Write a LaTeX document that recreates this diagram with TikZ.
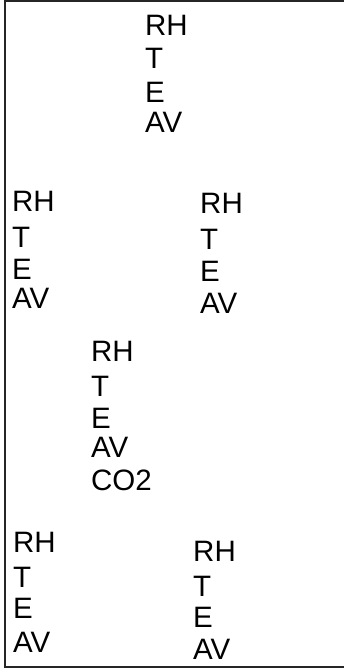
\documentclass[tikz,border=0pt]{standalone}
\usepackage{fontspec}
\setmainfont{Liberation Sans}
\begin{document}
\begin{tikzpicture}[x=1pt,y=-1pt,
  lbl/.style={anchor=base west,inner sep=0pt,font=\fontsize{29.5}{33}\selectfont},
  frame/.style={draw=black!85,line width=1.4pt}]
\useasboundingbox (0,0) rectangle (346,670);
\draw[frame] (344,1) -- (5,1) -- (5,667) -- (344,667);
% top
\foreach \w/\y [count=\i] in {RH/35,T/68,E/102,AV/132}
  \node[lbl] (top\i) at (145,\y) {\w};
% middle left and right
\foreach \w/\y [count=\i] in {RH/211,T/247,E/279,AV/308}
  \node[lbl] (midl\i) at (12,\y) {\w};
\foreach \w/\y [count=\i] in {RH/213,T/249,E/281,AV/313}
  \node[lbl] (midr\i) at (200,\y) {\w};
% centre, with CO2
\foreach \w/\y [count=\i] in {RH/361,T/396,E/428,AV/457,CO2/490}
  \node[lbl] (ctr\i) at (91,\y) {\w};
% bottom left and right
\foreach \w/\y [count=\i] in {RH/552,T/587,E/618,AV/652}
  \node[lbl] (botl\i) at (13,\y) {\w};
\foreach \w/\y [count=\i] in {RH/561,T/596,E/627,AV/659}
  \node[lbl] (botr\i) at (193,\y) {\w};
\end{tikzpicture}
\end{document}
